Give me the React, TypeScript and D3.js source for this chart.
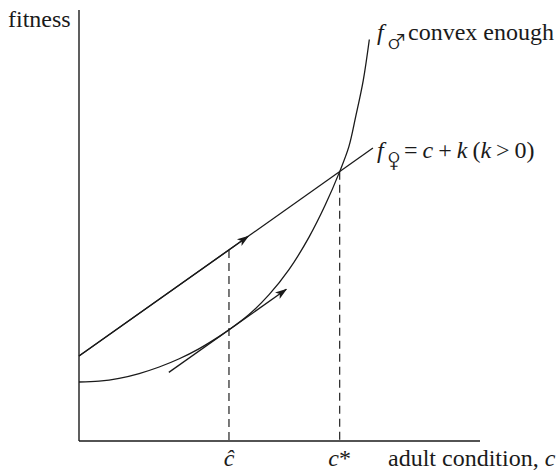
import React from "react";
import * as d3 from "d3";

// Male fitness curve (convex)
const maleCondition = [0, 0.5, 1, 1.5, 2, 2.5, 3, 3.5, 3.74, 4.24, 4.74, 5.24, 5.74, 6.14, 6.5, 6.73, 6.9, 7.09, 7.24];
const maleFitness = [2.08, 2.11, 2.21, 2.38, 2.61, 2.9, 3.26, 3.69, 3.92, 4.46, 5.16, 6.05, 7.2, 8.32, 9.5, 10.38, 11.44, 12.73, 14.16];

// Female fitness line f = c + k
const femaleK = 3;
const femaleRange = [0, 7.33];
const femaleArrowEnd = 4.22;

// Tangent to the male curve at c-hat
const cHat = 3.74;
const cStar = 6.5;
const tangentRange = [2.24, 5.17];

const xDomain = [0, 10];
const yDomain = [0, 15.2];

const W = 557;
const H = 474;

export default function App() {
  const x = d3.scaleLinear().domain(xDomain).range([79, 480]);
  const y = d3.scaleLinear().domain(yDomain).range([441, 10]);

  const male = d3
    .line<number>()
    .x((_, i) => x(maleCondition[i]))
    .y((d) => y(d))
    .curve(d3.curveCatmullRom.alpha(0.5))(maleFitness) as string;

  const female = (c: number) => c + femaleK;
  const maleAtHat = maleFitness[maleCondition.indexOf(cHat)];
  const tangent = (c: number) => maleAtHat + (c - cHat);

  const stroke = "#1a1a1a";
  const serifStyle = { fontFamily: '"Liberation Serif", "Times New Roman", Times, serif' };
  const symFont = "FreeSerif";

  return (
    <div style={{ position: "absolute", left: 0, top: 0 }}>
      <svg width={W} height={H} viewBox={`0 0 ${W} ${H}`} style={{ display: "block", background: "#fff" }}>
        <defs>
          <marker id="arr" markerUnits="userSpaceOnUse" markerWidth={12} markerHeight={10} refX={11} refY={4} orient="auto" viewBox="0 0 12 8">
            <path d="M0,0 L12,4 L0,8 L3,4 Z" fill={stroke} />
          </marker>
        </defs>

        {/* axes */}
        <line x1={x(0)} y1={y(yDomain[1])} x2={x(0)} y2={y(0)} stroke={stroke} strokeWidth={1.4} />
        <line x1={x(0)} y1={y(0)} x2={x(xDomain[1])} y2={y(0)} stroke={stroke} strokeWidth={1.4} />

        {/* dashed guides */}
        <line x1={x(cHat)} y1={y(female(cHat))} x2={x(cHat)} y2={y(0)} stroke="#333" strokeWidth={1.3} strokeDasharray="8,5" />
        <line x1={x(cStar)} y1={y(female(cStar))} x2={x(cStar)} y2={y(0)} stroke="#333" strokeWidth={1.3} strokeDasharray="8,5" />

        {/* female line */}
        <line x1={x(femaleRange[0])} y1={y(female(femaleRange[0]))} x2={x(femaleRange[1])} y2={y(female(femaleRange[1]))} stroke={stroke} strokeWidth={1.3} />
        <line x1={x(femaleRange[0])} y1={y(female(femaleRange[0]))} x2={x(femaleArrowEnd)} y2={y(female(femaleArrowEnd))} stroke={stroke} strokeWidth={1.3} markerEnd="url(#arr)" />

        {/* male curve */}
        <path d={male} fill="none" stroke={stroke} strokeWidth={1.3} />

        {/* tangent arrow */}
        <line x1={x(tangentRange[0])} y1={y(tangent(tangentRange[0]))} x2={x(tangentRange[1])} y2={y(tangent(tangentRange[1]))} stroke={stroke} strokeWidth={1.3} markerEnd="url(#arr)" />

        {/* labels */}
        <g style={serifStyle} fontSize={24} fill={stroke}>
          <text x={8} y={27}>fitness</text>

          <text x={377} y={40}>
            <tspan fontStyle="italic">f</tspan>
          </text>
          <text x={388} y={49} fontFamily={symFont} fontSize={24}>♂</text>
          <text x={408} y={40}>convex enough</text>

          <text x={377} y={158}>
            <tspan fontStyle="italic">f</tspan>
          </text>
          <text x={388} y={165} fontFamily={symFont} fontSize={24}>♀</text>
          <text x={404} y={158} wordSpacing={-1}>
            <tspan>= </tspan>
            <tspan fontStyle="italic">c</tspan>
            <tspan> + </tspan>
            <tspan fontStyle="italic">k</tspan>
            <tspan> (</tspan>
            <tspan fontStyle="italic">k</tspan>
            <tspan> &gt; 0)</tspan>
          </text>

          <text x={x(cHat)} y={466} fontStyle="italic" textAnchor="middle">ĉ</text>
          <text x={x(cStar)} y={466} textAnchor="middle">
            <tspan fontStyle="italic">c</tspan>
            <tspan>*</tspan>
          </text>
          <text x={388} y={466}>
            adult condition, <tspan fontStyle="italic">c</tspan>
          </text>
        </g>
      </svg>
    </div>
  );
}
